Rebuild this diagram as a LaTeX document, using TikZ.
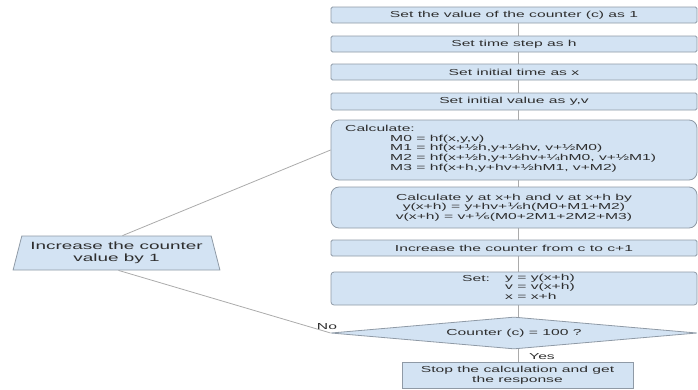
\documentclass[tikz,border=0pt]{standalone}
\usepackage{fontspec}
\setmainfont{Liberation Sans}
% wide sans face used for all labels in the chart
\newfontfamily\widesans[FakeStretch=1.8]{Liberation Sans}
\newfontfamily\widedjv[FakeStretch=1.8]{DejaVu Sans}
\newcommand{\onesixth}{{\widedjv ⅙}}
\usetikzlibrary{shapes.geometric,backgrounds}

\definecolor{boxfill}{HTML}{D3E3F3}
\definecolor{boxline}{HTML}{8F9AA6}
\definecolor{wire}{HTML}{ABABAB}
\definecolor{ink}{HTML}{2E2E2E}

\tikzset{
  txt/.style={inner sep=0pt, text=ink, font=\widesans\fontsize{8.7}{9.7}\selectfont},
  stepbox/.style={txt, draw=boxline, fill=boxfill, line width=0.8pt,
                  rounded corners=1.5pt, minimum width=366pt},
  calcbox/.style={stepbox, rounded corners=8pt},
  wirestyle/.style={draw=wire, line width=0.8pt},
}

\begin{document}
\begin{tikzpicture}[x=1pt,y=-1pt]
\useasboundingbox (0,0) rectangle (698,389);
\coordinate (spine) at (518,0);

% main column of steps
\node[stepbox, minimum height=16pt] (b1) at (514,15) {Set the value of the counter (c) as 1};
\node[stepbox, minimum height=16pt] (b2) at (514,44) {Set time step as h};
\node[stepbox, minimum height=16pt] (b3) at (514,72) {Set initial time as x};
\node[stepbox, minimum height=17pt] (b4) at (514,101.5) {Set initial value as y,v};

\node[calcbox, minimum height=60pt] (b5) at (514,150) {};
\node[txt, anchor=west] (b5h) at (345,128) {Calculate:};
\node[txt, anchor=north west, align=left] (b5m) at (390,134.5)
  {M0 = hf(x,y,v)\\
   M1 = hf(x+½h,y+½hv, v+½M0)\\
   M2 = hf(x+½h,y+½hv+¼hM0, v+½M1)\\
   M3 = hf(x+h,y+hv+½hM1, v+M2)};

\node[calcbox, minimum height=41pt, align=center] (b6) at (514,207.5)
  {Calculate y at x+h and v at x+h by\\
   y(x+h) = y+hv+\onesixth h(M0+M1+M2)\\
   v(x+h) = v+\onesixth(M0+2M1+2M2+M3)};

\node[stepbox, minimum height=16pt] (b7) at (514,248) {Increase the counter from c to c+1};

\node[stepbox, rounded corners=3pt, minimum height=33pt] (b8) at (514,288.5) {};
\node[txt, anchor=west] (b8h) at (462,278) {Set:};
\node[txt, anchor=north west, align=left] (b8m) at (505,273.5)
  {y = y(x+h)\\ v = v(x+h)\\ x = x+h};

% decision
\node[diamond, draw=boxline, fill=boxfill, line width=0.8pt, inner sep=0pt,
      minimum width=366pt, minimum height=32pt] (dec) at (514,333) {};
\node[txt] (dect) at (514,333) {Counter (c) = 100 ?};

\node[stepbox, rounded corners=0pt, minimum width=231pt, minimum height=26pt,
      align=center] (stop) at (517.5,375)
  {Stop the calculation and get\\ the response};

% loop-back step
\node[trapezium, trapezium stretches=true, trapezium left angle=70,
      trapezium right angle=70, draw=boxline, fill=boxfill, line width=0.8pt,
      inner sep=0pt, minimum width=207pt, minimum height=34pt, align=center,
      text=ink, font=\widesans\fontsize{10.5}{12}\selectfont] (inc) at (116.5,253)
  {Increase the counter\\ value by 1};

\node[txt] (no) at (327,327) {No};
\node[txt] (yes) at (542,357) {Yes};

% connectors
\begin{scope}[on background layer]
  \draw[wirestyle] (b1.south -| spine) -- (b2.north -| spine);
  \draw[wirestyle] (b2.south -| spine) -- (b3.north -| spine);
  \draw[wirestyle] (b3.south -| spine) -- (b4.north -| spine);
  \draw[wirestyle] (b4.south -| spine) -- (b5.north -| spine);
  \draw[wirestyle] (b5.south -| spine) -- (b6.north -| spine);
  \draw[wirestyle] (b6.south -| spine) -- (b7.north -| spine);
  \draw[wirestyle] (b7.south -| spine) -- (b8.north -| spine);
  \draw[wirestyle] (b8.south -| spine) -- (dec.north -| spine);
  \draw[wirestyle] (dec.south -| spine) -- (stop.north -| spine);
  \draw[wirestyle] ([xshift=6pt]inc.north) -- (b5.west);
  \draw[wirestyle] ([xshift=2pt]inc.south) -- (dec.west);
\end{scope}
\end{tikzpicture}
\end{document}
